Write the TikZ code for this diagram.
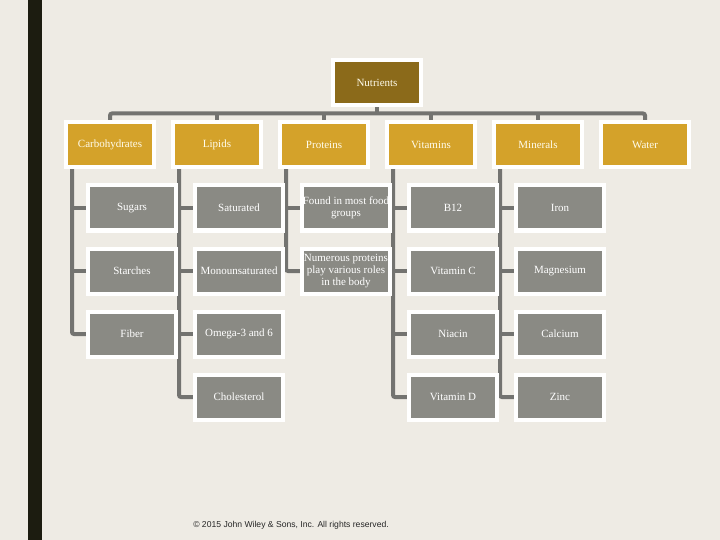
\documentclass[tikz,border=0pt]{standalone}
\usepackage{fontspec}
\setmainfont{Liberation Serif}
\newfontfamily\arialf{Liberation Sans}
\usetikzlibrary{calc}
\definecolor{bg}{HTML}{EEEBE4}
\definecolor{barc}{HTML}{1C1C10}
\definecolor{gold}{HTML}{D4A22A}
\definecolor{brownc}{HTML}{8B6A1A}
\definecolor{boxg}{HTML}{8A8A84}
\definecolor{lineg}{HTML}{737370}
\definecolor{txtl}{HTML}{FFFCEC}
\pgfdeclarelayer{bgl}
\pgfdeclarelayer{lines}
\pgfsetlayers{bgl,lines,main}
\begin{document}
\begin{tikzpicture}[x=1pt,y=-1pt,
  box/.style={draw=white,line width=4pt,minimum width=88pt,minimum height=45pt,inner sep=0pt,align=center,font=\fontsize{11}{12}\selectfont,text=white},
  topbox/.style={box,fill=gold,text=txtl},
  subbox/.style={box,fill=boxg},
  conn/.style={draw=lineg,line width=4pt,rounded corners=2pt}]
\begin{pgfonlayer}{bgl}
\fill[bg] (0,0) rectangle (720,540);
\fill[barc] (28,0) rectangle (42,540);
\end{pgfonlayer}
\useasboundingbox (0,0) rectangle (720,540);

\node[box,fill=brownc,text=txtl] (nut) at (377,82.5) {Nutrients};

\node[topbox] (c1) at (110,144.5) {Carbohydrates};
\node[topbox] (c2) at (217,144.5) {Lipids};
\node[topbox] (c3) at (324,144.5) {Proteins};
\node[topbox] (c4) at (431,144.5) {Vitamins};
\node[topbox] (c5) at (538,144.5) {Minerals};
\node[topbox] (c6) at (645,144.5) {Water};

\node[subbox] (s11) at (132,208) {Sugars};
\node[subbox] (s12) at (132,271) {Starches};
\node[subbox] (s13) at (132,334) {Fiber};

\node[subbox] (s21) at (239,208) {Saturated};
\node[subbox] (s22) at (239,271) {Monounsaturated};
\node[subbox] (s23) at (239,334) {Omega-3 and 6};
\node[subbox] (s24) at (239,397) {Cholesterol};

\node[subbox] (s31) at (346,208) {Found in most food\\groups};
\node[subbox] (s32) at (346,271) {Numerous proteins\\play various roles\\in the body};

\node[subbox] (s41) at (453,208) {B12};
\node[subbox] (s42) at (453,271) {Vitamin C};
\node[subbox] (s43) at (453,334) {Niacin};
\node[subbox] (s44) at (453,397) {Vitamin D};

\node[subbox] (s51) at (560,208) {Iron};
\node[subbox] (s52) at (560,271) {Magnesium};
\node[subbox] (s53) at (560,334) {Calcium};
\node[subbox] (s54) at (560,397) {Zinc};

\node[font=\arialf\fontsize{8.6}{10}\selectfont,text=black!85] (copy) at (291,525) {© 2015 John Wiley \& Sons, Inc. All rights reserved.};

\coordinate (bus) at (0,113.5);
\begin{pgfonlayer}{lines}
\draw[conn] (nut.south) -- (nut.south |- bus);
\draw[conn] (c1.north) |- (bus -| c6.north) -- (c6.north);
\foreach \c in {c2,c3,c4,c5}{
  \draw[conn] (\c.north) -- (\c.north |- bus);
}
\foreach \p/\kids/\last in {c1/{s11,s12}/s13,c2/{s21,s22,s23}/s24,c3/{s31}/s32,c4/{s41,s42,s43}/s44,c5/{s51,s52,s53}/s54}{
  \coordinate (v) at ($(\p.south west)+(8,0)$);
  \draw[conn] (v) |- (\last.west);
  \foreach \k in \kids {
    \draw[draw=lineg,line width=4pt] (v |- \k.west) -- (\k.west);
  }
}
\end{pgfonlayer}
\end{tikzpicture}
\end{document}
